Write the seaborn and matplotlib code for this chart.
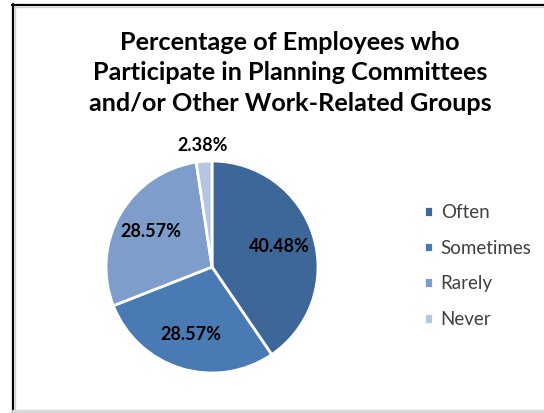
import matplotlib
matplotlib.use("Agg")
import matplotlib.pyplot as plt
from matplotlib.lines import Line2D
import numpy as np
import seaborn as sns

# Survey responses
categories = ["Often", "Sometimes", "Rarely", "Never"]
percentages = [40.48, 28.57, 28.57, 2.38]
colors = ["#3D6699", "#4A7AB4", "#7E9DCA", "#B4C6E2"]
title = ("Percentage of Employees who\n"
         "Participate in Planning Committees\n"
         "and/or Other Work-Related Groups")

sns.set_theme(style="white")
plt.rcParams["font.family"] = ["Lato", "DejaVu Sans"]

W, H = 544, 413
fig = plt.figure(figsize=(W / 100, H / 100), dpi=100)
fig.patch.set_facecolor("white")

# Pie axes: centre (212, 267) px, radius 106 px
cx, cy, r = 212, 267, 106
ax = fig.add_axes([(cx - r) / W, (H - cy - r) / H, 2 * r / W, 2 * r / H])
palette = sns.color_palette(colors)

wedges, texts, autotexts = ax.pie(
    percentages,
    colors=palette,
    startangle=90,
    counterclock=False,
    autopct=lambda p: "",
    pctdistance=0.67,
    wedgeprops=dict(edgecolor="white", linewidth=2),
    radius=1.0,
)
ax.set_xlim(-1, 1)
ax.set_ylim(-1, 1)
ax.set_aspect("equal")

for w, val, t in zip(wedges, percentages, autotexts):
    ang = np.deg2rad((w.theta1 + w.theta2) / 2)
    dist = 1.15 if val < 5 else 0.67
    t.set_position((dist * np.cos(ang), dist * np.sin(ang)))
    t.set_text(f"{val:.2f}%")
    t.set_fontsize(13)
    t.set_fontweight("bold")
    t.set_color("black")
    t.set_ha("center")
    t.set_va("center")

fig.text(290 / W, 1 - 73 / H, title, ha="center", va="center",
         fontsize=18.2, fontweight="bold", color="black", linespacing=1.38)

leg = fig.legend(
    wedges, categories,
    loc="center left",
    bbox_to_anchor=(407 / W, 1 - 266 / H),
    frameon=False,
    handlelength=0.5, handleheight=0.5,
    handletextpad=0.4,
    labelspacing=1.0,
    fontsize=13.5,
)
for txt in leg.get_texts():
    txt.set_color("#404040")

# Chart frame
fig.add_artist(Line2D([12.5 / W, 12.5 / W], [0, 1 - 4 / H], transform=fig.transFigure,
                      color="black", linewidth=1.6))
fig.add_artist(Line2D([12 / W, 1], [1 - 4.5 / H, 1 - 4.5 / H], transform=fig.transFigure,
                      color="black", linewidth=1.6))
fig.add_artist(Line2D([14 / W, 1], [1 - 6.5 / H, 1 - 6.5 / H], transform=fig.transFigure,
                      color="#D0D0D0", linewidth=1))
fig.add_artist(Line2D([14.5 / W, 14.5 / W], [0, 1 - 6 / H], transform=fig.transFigure,
                      color="#D0D0D0", linewidth=1))
fig.add_artist(Line2D([13 / W, 1], [2 / H, 2 / H], transform=fig.transFigure,
                      color="#D8D8D8", linewidth=2.5))

fig.savefig("out.png", dpi=100, facecolor="white")
